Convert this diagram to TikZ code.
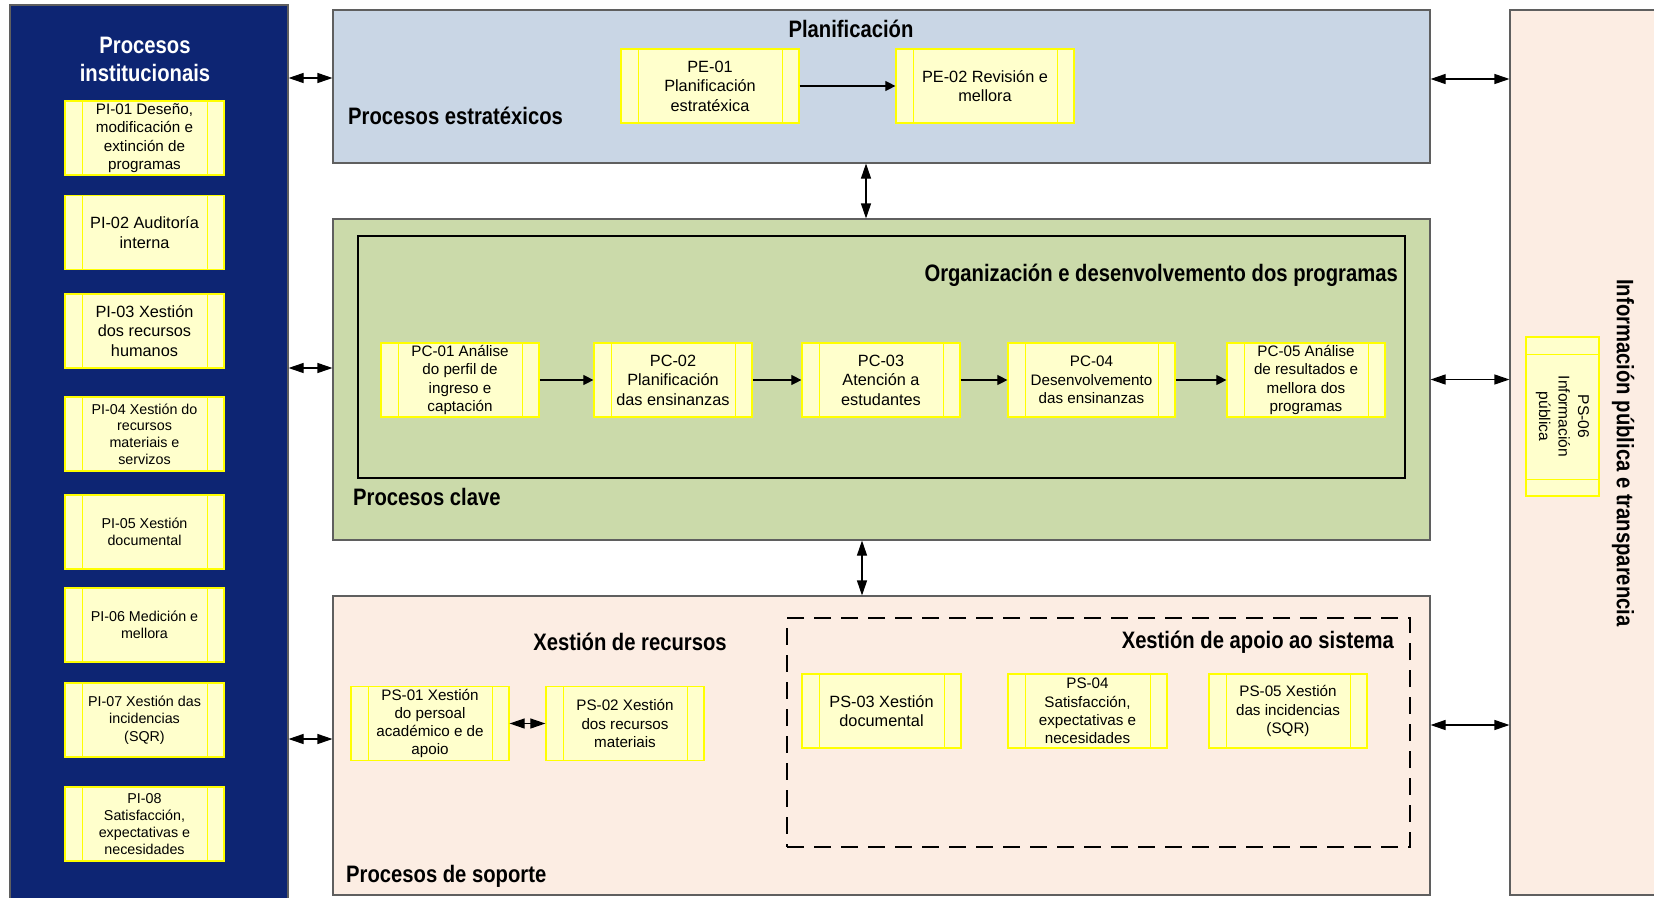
\documentclass[tikz,border=0pt]{standalone}
\usepackage{fontspec}
\setmainfont{Liberation Sans}
\newfontfamily\titlefont{Liberation Sans}[FakeStretch=0.85]
\usetikzlibrary{arrows.meta,calc}
\definecolor{navy}{RGB}{13,37,115}
\definecolor{planblue}{RGB}{201,214,229}
\definecolor{keygreen}{RGB}{203,218,170}
\definecolor{peach}{RGB}{252,237,227}
\definecolor{yfill}{RGB}{255,255,204}
\definecolor{ybord}{RGB}{255,255,0}
\definecolor{pgray}{RGB}{95,95,95}
\tikzset{
  panel/.style={draw=pgray, line width=1.1pt, inner sep=0pt},
  ybox/.style={draw=ybord, fill=yfill, line width=1.2pt, minimum width=158pt, minimum height=74pt,
    inner sep=0pt, align=center,
    path picture={\draw[ybord, line width=0.8pt]
      ([xshift=17pt]path picture bounding box.south west) -- ([xshift=17pt]path picture bounding box.north west)
      ([xshift=-17pt]path picture bounding box.south east) -- ([xshift=-17pt]path picture bounding box.north east);}},
  yboxv/.style={draw=ybord, fill=yfill, line width=1.2pt, minimum width=73pt, minimum height=159pt,
    inner sep=0pt, align=center,
    path picture={\draw[ybord, line width=0.8pt]
      ([yshift=17pt]path picture bounding box.south west) -- ([yshift=17pt]path picture bounding box.south east)
      ([yshift=-17pt]path picture bounding box.north west) -- ([yshift=-17pt]path picture bounding box.north east);}},
  fA/.style={font=\fontsize{14.3}{17.5}\selectfont},
  fB/.style={font=\fontsize{15.2}{18.3}\selectfont},
  fC/.style={font=\fontsize{16.3}{19.6}\selectfont},
  ttl/.style={inner sep=0pt, font=\titlefont\bfseries\fontsize{23.8}{28}\selectfont},
  panarr/.style={{Triangle[length=15pt,width=10pt]}-{Triangle[length=15pt,width=10pt]}, line width=1.1pt},
  procarr/.style={-{Triangle[length=10pt,width=10pt]}, line width=1.1pt},
}
\begin{document}
\begin{tikzpicture}[x=1pt,y=-1pt]
\useasboundingbox (0,0) rectangle (1654,897);
\clip (0,0) rectangle (1654,897);
% panels
\node[panel, fill=navy, minimum width=278pt, minimum height=900pt] (pi) at (149,455) {};
\node[panel, fill=planblue, minimum width=1097pt, minimum height=153pt] (plan) at (881.5,86.5) {};
\node[panel, fill=keygreen, minimum width=1097pt, minimum height=321pt] (clave) at (881.5,379.5) {};
\node[panel, fill=peach, minimum width=1097pt, minimum height=299pt] (sop) at (881.5,745.5) {};
\node[panel, fill=peach, minimum width=160pt, minimum height=885pt] (info) at (1590,452.5) {};
\node[draw=black, line width=2.6pt, minimum width=1047pt, minimum height=242pt, inner sep=0pt] (org) at (881.5,357) {};
\node[draw=black, line width=2.6pt, dash pattern=on 17pt off 10pt, minimum width=623pt, minimum height=229pt, inner sep=0pt] (apoio) at (1098.5,732.5) {};
% titles
\node[ttl, text=white, align=center] (tpi) at (145,59) {Procesos\\institucionais};
\node[ttl] (tplan) at (851,29) {Planificación};
\node[ttl, anchor=west] (test) at (348,116) {Procesos estratéxicos};
\node[ttl, anchor=east] (torg) at (1398,275) {Organización e desenvolvemento dos programas};
\node[ttl, anchor=west] (tclave) at (353,497) {Procesos clave};
\node[ttl] (trec) at (630,642) {Xestión de recursos};
\node[ttl, anchor=east] (tapoio) at (1394,642) {Xestión de apoio ao sistema};
\node[ttl, anchor=west] (tsop) at (346,876) {Procesos de soporte};
\node[ttl, rotate=-90] (tinfo) at (1623,453) {Información pública e transparencia};
% PI boxes
\node[ybox, fB, minimum width=159pt] (pi1) at (144.5,138) {PI-01 Deseño,\\modificación e\\extinción de\\programas};
\node[ybox, fC, minimum width=159pt] (pi2) at (144.5,232.5) {PI-02 Auditoría\\interna};
\node[ybox, fC, minimum width=159pt] (pi3) at (144.5,331) {PI-03 Xestión\\dos recursos\\humanos};
\node[ybox, fA, minimum width=159pt, font=\fontsize{14.3}{16.7}\selectfont] (pi4) at (144.5,434) {PI-04 Xestión do\\recursos\\materiais e\\servizos};
\node[ybox, fA, minimum width=159pt] (pi5) at (144.5,532) {PI-05 Xestión\\documental};
\node[ybox, fA, minimum width=159pt] (pi6) at (144.5,625) {PI-06 Medición e\\mellora};
\node[ybox, fA, minimum width=159pt] (pi7) at (144.5,720) {PI-07 Xestión das\\incidencias\\(SQR)};
\node[ybox, fA, minimum width=159pt, font=\fontsize{14.3}{17}\selectfont] (pi8) at (144.5,824) {PI-08\\Satisfacción,\\expectativas e\\necesidades};
% PE boxes
\node[ybox, fC, minimum width=178pt] (pe1) at (710,86) {PE-01\\Planificación\\estratéxica};
\node[ybox, fC, minimum width=178pt] (pe2) at (985,86) {PE-02 Revisión e\\mellora};
% PC boxes
\node[ybox, fB] (pc1) at (460,380) {PC-01 Análise\\do perfil de\\ingreso e\\captación};
\node[ybox, fC] (pc2) at (673,380) {PC-02\\Planificación\\das ensinanzas};
\node[ybox, fC] (pc3) at (881,380) {PC-03\\Atención a\\estudantes};
\node[ybox, fB, minimum width=167pt] (pc4) at (1091.5,380) {PC-04\\Desenvolvemento\\das ensinanzas};
\node[ybox, fB] (pc5) at (1306,380) {PC-05 Análise\\de resultados e\\mellora dos\\programas};
% PS boxes
\node[ybox, fB] (ps1) at (430,723.5) {PS-01 Xestión\\do persoal\\académico e de\\apoio};
\node[ybox, fB] (ps2) at (625,723.5) {PS-02 Xestión\\dos recursos\\materiais};
\node[ybox, fC, minimum width=159pt] (ps3) at (881.5,711) {PS-03 Xestión\\documental};
\node[ybox, fB, minimum width=159pt] (ps4) at (1087.5,711) {PS-04\\Satisfacción,\\expectativas e\\necesidades};
\node[ybox, fB] (ps5) at (1288,711) {PS-05 Xestión\\das incidencias\\(SQR)};
\node[yboxv] (ps6) at (1562.5,416.5) {\rotatebox{-90}{\fontsize{15.6}{19.5}\selectfont\begin{tabular}{@{}c@{}}PS-06\\Información\\pública\end{tabular}}};
% process arrows
\draw[procarr] (pe1) -- (pe2);
\draw[procarr] (pc1) -- (pc2);
\draw[procarr] (pc2) -- (pc3);
\draw[procarr] (pc3) -- (pc4);
\draw[procarr] (pc4) -- (pc5);
\draw[panarr] (ps1) -- (ps2);
% panel connectors
\coordinate (a1) at ([yshift=8.5pt]plan.west);
\coordinate (a2) at ([yshift=11.5pt]clave.west);
\coordinate (a3) at ([yshift=6.5pt]sop.west);
\draw[panarr] (pi.east |- a1) -- (a1);
\draw[panarr] (pi.east |- a2) -- (a2);
\draw[panarr] (pi.east |- a3) -- (a3);
\coordinate (b1) at ([yshift=7.5pt]plan.east);
\coordinate (b2) at (clave.east);
\coordinate (b3) at ([yshift=20.5pt]sop.east);
\draw[panarr] (b1) -- (info.west |- b1);
\draw[panarr] (b2) -- (info.west |- b2);
\draw[panarr] (b3) -- (info.west |- b3);
\coordinate (c1) at ([xshift=-15.5pt]plan.south);
\coordinate (c2) at ([xshift=-19.5pt]clave.south);
\draw[panarr] (c1) -- (clave.north -| c1);
\draw[panarr] (c2) -- (sop.north -| c2);
\end{tikzpicture}
\end{document}
